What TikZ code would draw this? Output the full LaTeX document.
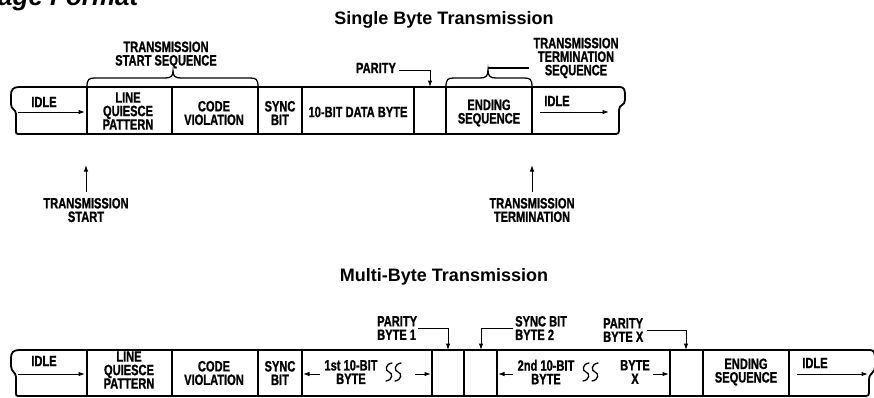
\documentclass[tikz,border=0pt]{standalone}
\usepackage{fontspec}
\setmainfont{Liberation Sans}
\newfontfamily\condfont[FakeStretch=0.74,FakeBold=1]{Liberation Sans}
\usetikzlibrary{arrows.meta}
\begin{document}
\begin{tikzpicture}[x=1pt,y=-1pt,
  lab/.style={font=\condfont\bfseries\fontsize{15}{13.5}\selectfont, inner sep=0pt, align=center},
  labl/.style={lab, align=left, anchor=west},
  ttl/.style={font=\bfseries\fontsize{18}{20}\selectfont, inner sep=0pt, anchor=base},
  bar/.style={line width=1.8pt, line join=round},
  divider/.style={line width=1.6pt},
  brc/.style={line width=1.3pt},
  arr/.style={line width=1pt, -{Latex[length=6.5pt,width=4.5pt]}},
  sq/.style={line width=1.3pt, line cap=round}]
\useasboundingbox (0,0) rectangle (874,397);

% cropped heading at top left
\node[font=\bfseries\itshape\fontsize{26}{28}\selectfont, inner sep=0pt, anchor=base west] (pagettl) at (-2,5) {age Format};

% titles
\node[ttl] (t1) at (444,24.5) {Single Byte Transmission};
\node[ttl] (t2) at (444,281) {Multi-Byte Transmission};

% ================= single byte bar =================
\draw[bar] (19,87) -- (620,87) .. controls (624,87) and (625,90) .. (625,95) -- (625,100)
  .. controls (625,106) and (619,104) .. (619,110) -- (619,131)
  .. controls (619,133) and (618,134) .. (616,134) -- (18,134)
  .. controls (16,134) and (16,133) .. (16,131) -- (16,114)
  .. controls (16,109) and (11,110) .. (11,104) -- (11,95)
  .. controls (11,90) and (13,87) .. (19,87) -- cycle;
\foreach \x in {87,172,258,302,414,446,532} \draw[divider] (\x,87) -- (\x,134);

\node[lab] (idle1) at (44,102) {IDLE};
\coordinate (idle1a) at (18,112);
\coordinate (idle1b) at (85,112);
\draw[arr] (idle1a) -- (idle1b);
\node[lab] (lqp1) at (128,111) {LINE\\QUIESCE\\PATTERN};
\node[lab] (cv1) at (214,113) {CODE\\VIOLATION};
\node[lab] (sb1) at (280,113) {SYNC\\BIT};
\node[lab] (db1) at (358,112) {10-BIT DATA BYTE};
\node[lab] (es1) at (489,113) {ENDING\\SEQUENCE};
\node[lab] (idle2) at (557,101) {IDLE};
\coordinate (idle2a) at (540,112);
\coordinate (idle2b) at (609,112);
\draw[arr] (idle2a) -- (idle2b);

% brace: transmission start sequence
\draw[brc] (87,87) .. controls (87,79) and (89,78) .. (95,78) -- (165,78)
  .. controls (171,78) and (173,76) .. (173,71)
  .. controls (173,76) and (175,78) .. (181,78) -- (250,78)
  .. controls (256,78) and (258,79) .. (258,87);
\node[lab] (tss) at (166,55) {TRANSMISSION\\START SEQUENCE};

% brace: transmission termination sequence
\draw[brc] (446,87) .. controls (446,79) and (448,78) .. (454,78) -- (480,78)
  .. controls (486,78) and (488,76) .. (488,70)
  .. controls (488,76) and (490,78) .. (496,78) -- (524,78)
  .. controls (530,78) and (532,79) .. (532,87);
\node[lab] (tts) at (576,58) {TRANSMISSION\\TERMINATION\\SEQUENCE};
\coordinate (bt2) at (488,68);
\coordinate (bt2e) at (529,68);
\draw[brc] (bt2) -- (bt2e);

% parity label
\node[lab] (par1) at (376,68) {PARITY};
\coordinate (par1a) at (399,70);
\coordinate (par1b) at (430,87);
\draw[arr] (par1a) -| (par1b);

% start / termination arrows
\node[lab] (tstart) at (86,210) {TRANSMISSION\\START};
\coordinate (tstarta) at (86,192);
\coordinate (tstartb) at (86,165);
\draw[arr] (tstarta) -- (tstartb);
\node[lab] (tterm) at (532,210) {TRANSMISSION\\TERMINATION};
\coordinate (tterma) at (532,192);
\coordinate (ttermb) at (532,165);
\draw[arr] (tterma) -- (ttermb);

% ================= multi byte bar =================
\draw[bar] (19,350) -- (870,350) .. controls (874,350) and (875,353) .. (875,358) -- (875,366)
  .. controls (875,374) and (869,372) .. (869,380) -- (869,393)
  .. controls (869,395) and (868,396) .. (866,396) -- (18,396)
  .. controls (16,396) and (16,395) .. (16,393) -- (16,377)
  .. controls (16,372) and (11,372) .. (11,366) -- (11,358)
  .. controls (11,353) and (13,350) .. (19,350) -- cycle;
\foreach \x in {87,172,258,302,432,464,497,670,703,789} \draw[divider] (\x,350) -- (\x,396);

\node[lab] (idle3) at (44,361) {IDLE};
\coordinate (idle3a) at (18,374);
\coordinate (idle3b) at (85,374);
\draw[arr] (idle3a) -- (idle3b);
\node[lab] (lqp2) at (129,370) {LINE\\QUIESCE\\PATTERN};
\node[lab] (cv2) at (214,373) {CODE\\VIOLATION};
\node[lab] (sb2) at (280,373) {SYNC\\BIT};

\node[lab] (b1) at (351,372) {1st 10-BIT\\BYTE};
\coordinate (b1la) at (320,374);
\coordinate (b1lb) at (303,374);
\draw[arr] (b1la) -- (b1lb);
\coordinate (b1ra) at (415,374);
\coordinate (b1rb) at (431,374);
\draw[arr] (b1ra) -- (b1rb);
\foreach \x in {389,398}
  \draw[sq] (\x+3,363) .. controls (\x-4,364) and (\x-4,371) .. (\x,372)
    .. controls (\x+4,373) and (\x+4,380) .. (\x-3,381);

\node[lab] (b2) at (546,372) {2nd 10-BIT\\BYTE};
\coordinate (b2la) at (513,374);
\coordinate (b2lb) at (498,374);
\draw[arr] (b2la) -- (b2lb);
\foreach \x in {586,595}
  \draw[sq] (\x+3,363) .. controls (\x-4,364) and (\x-4,371) .. (\x,372)
    .. controls (\x+4,373) and (\x+4,380) .. (\x-3,381);
\node[lab] (bx) at (635,372) {BYTE\\X};
\coordinate (bxa) at (653,374);
\coordinate (bxb) at (669,374);
\draw[arr] (bxa) -- (bxb);

\node[lab] (es2) at (746,372) {ENDING\\SEQUENCE};
\node[lab] (idle4) at (815,363) {IDLE};
\coordinate (idle4a) at (797,374);
\coordinate (idle4b) at (868,374);
\draw[arr] (idle4a) -- (idle4b);

% labels above multi-byte bar
\node[labl] (pb1) at (377,328) {PARITY\\BYTE 1};
\coordinate (pb1a) at (418,328);
\coordinate (pb1b) at (448,350);
\draw[arr] (pb1a) -| (pb1b);
\node[labl] (sbb2) at (515,328) {SYNC BIT\\BYTE 2};
\coordinate (sbb2a) at (513,328);
\coordinate (sbb2b) at (481,350);
\draw[arr] (sbb2a) -| (sbb2b);
\node[labl] (pbx) at (603,330) {PARITY\\BYTE X};
\coordinate (pbxa) at (647,330);
\coordinate (pbxb) at (686,350);
\draw[arr] (pbxa) -| (pbxb);
\end{tikzpicture}
\end{document}
